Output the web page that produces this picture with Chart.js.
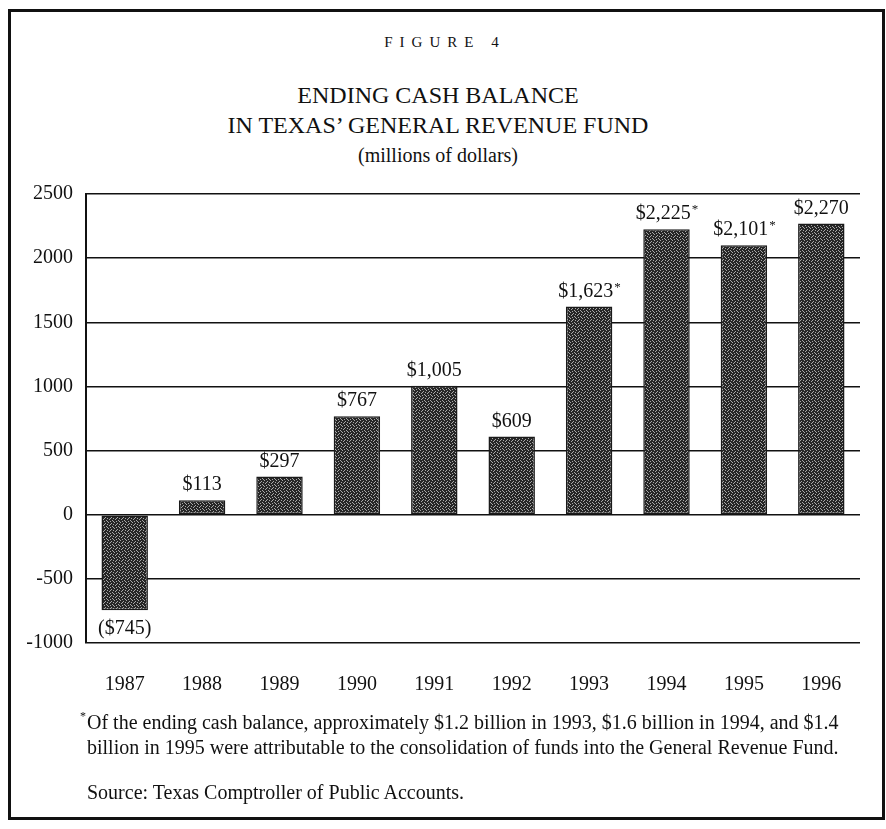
<!DOCTYPE html>
<html>
<head>
<meta charset="utf-8">
<script src="https://cdn.jsdelivr.net/npm/chart.js@4.4.1/dist/chart.umd.min.js"></script>
<style>
  html, body { margin: 0; padding: 0; background: #fff; }
  #page { position: relative; width: 886px; height: 829px; overflow: hidden; font-family: "Liberation Serif", "DejaVu Serif", serif; color: #111; }
  #frame { position: absolute; left: 8px; top: 9px; width: 877px; height: 811px; border: 3px solid #111; box-sizing: border-box; }
  .t { position: absolute; left: 0; width: 876px; text-align: center; white-space: nowrap; }
  #fig { top: 32px; line-height: 20px; font-size: 15px; letter-spacing: 7px; padding-left: 7px; }
  #h1 { top: 80px; line-height: 30px; font-size: 24px; }
  #h2 { top: 110px; line-height: 30px; font-size: 24px; }
  #sub { top: 143px; line-height: 24px; font-size: 20px; }
  .note { position: absolute; left: 87px; white-space: nowrap; font-size: 20px; line-height: 25px; }
  .note sup { position: absolute; left: -7px; top: -6px; font-size: 12px; }
  canvas { position: absolute; left: 0; top: 0; }
</style>
</head>
<body>
<div id="page">
  <div id="frame"></div>
  <div class="t" id="fig">FIGURE 4</div>
  <div class="t" id="h1">ENDING CASH BALANCE</div>
  <div class="t" id="h2">IN TEXAS’ GENERAL REVENUE FUND</div>
  <div class="t" id="sub">(millions of dollars)</div>
  <canvas id="chart" width="886" height="829"></canvas>
  <div class="note" style="top:710px"><sup>*</sup>Of the ending cash balance, approximately $1.2 billion in 1993, $1.6 billion in 1994, and $1.4</div>
  <div class="note" style="top:735px">billion in 1995 were attributable to the consolidation of funds into the General Revenue Fund.</div>
  <div class="note" style="top:780px">Source: Texas Comptroller of Public Accounts.</div>
</div>
<script>
const years = ['1987', '1988', '1989', '1990', '1991', '1992', '1993', '1994', '1995', '1996'];
const balance = [-745, 113, 297, 767, 1005, 609, 1623, 2225, 2101, 2270];
// years marked with an asterisk (consolidated funds)
const starred = [false, false, false, false, false, false, true, true, true, false];
const yTicks = [-1000, -500, 0, 500, 1000, 1500, 2000, 2500];

const FONT = '"Liberation Serif", "DejaVu Serif", serif';
const ink = '#111';

// stippled halftone fill like the printed bars
function stipple() {
  const c = document.createElement('canvas');
  c.width = 6; c.height = 6;
  const g = c.getContext('2d');
  g.fillStyle = '#262626';
  g.fillRect(0, 0, 6, 6);
  g.fillStyle = '#a8a8a8';
  [[0,0],[3,1],[1,3],[4,4],[2,5],[5,2],[2,2],[5,5]].forEach(([x, y]) => g.fillRect(x, y, 1, 1));
  return g.createPattern(c, 'repeat');
}

const valueLabels = {
  id: 'valueLabels',
  afterDatasetsDraw(chart) {
    const ctx = chart.ctx;
    const meta = chart.getDatasetMeta(0);
    ctx.save();
    ctx.fillStyle = ink;
    meta.data.forEach((bar, i) => {
      const v = balance[i];
      ctx.font = '20px ' + FONT;
      if (v < 0) {
        ctx.textAlign = 'center';
        ctx.textBaseline = 'top';
        ctx.fillText('($' + Math.abs(v) + ')', bar.x, bar.y + 8);
        return;
      }
      const txt = '$' + v.toLocaleString('en-US');
      const w = ctx.measureText(txt).width;
      ctx.font = '13px ' + FONT;
      const sw = starred[i] ? ctx.measureText('*').width : 0;
      const x0 = bar.x - (w + sw) / 2;
      ctx.textAlign = 'left';
      ctx.textBaseline = 'alphabetic';
      ctx.font = '20px ' + FONT;
      ctx.fillText(txt, x0, bar.y - 10);
      if (starred[i]) {
        ctx.font = '13px ' + FONT;
        ctx.fillText('*', x0 + w + 1, bar.y - 16);
      }
    });
    ctx.restore();
  }
};

new Chart(document.getElementById('chart'), {
  type: 'bar',
  data: {
    labels: years,
    datasets: [{
      data: balance,
      backgroundColor: stipple(),
      borderColor: '#1a1a1a',
      borderWidth: 1.5,
      borderSkipped: false,
      barPercentage: 0.6,
      categoryPercentage: 1.0,
    }],
  },
  options: {
    responsive: false,
    animation: false,
    layout: { padding: { top: 194, right: 26, bottom: 116, left: 0 } },
    plugins: { legend: { display: false }, tooltip: { enabled: false }, title: { display: false } },
    scales: {
      x: {
        afterFit: s => { s.height = 70; },
        grid: { display: false },
        border: { display: false },
        ticks: { color: ink, padding: 22, font: { family: FONT, size: 20 } },
      },
      y: {
        min: -1000, max: 2500,
        afterFit: s => { s.width = 86; },
        afterBuildTicks: s => { s.ticks = yTicks.map(v => ({ value: v })); },
        grid: { color: ink, lineWidth: 1.5, drawTicks: false },
        border: { display: true, color: ink, width: 2 },
        ticks: { color: ink, padding: 13, font: { family: FONT, size: 20 }, callback: v => String(v) },
      },
    },
  },
  plugins: [valueLabels],
});
</script>
</body>
</html>
